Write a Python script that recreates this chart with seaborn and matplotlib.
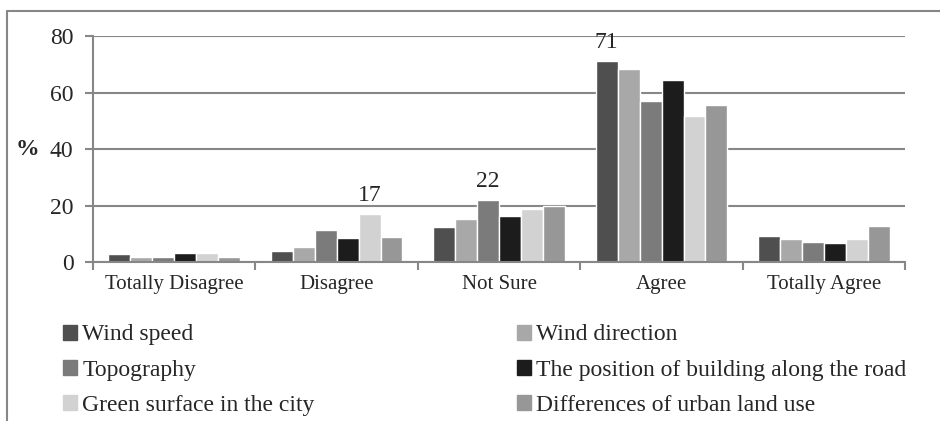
import pandas as pd
import matplotlib.pyplot as plt
import seaborn as sns
from matplotlib.lines import Line2D
from matplotlib.ticker import FixedLocator

sns.set_theme(style="white")
plt.rcParams["font.family"] = ["Liberation Serif", "DejaVu Serif"]

categories = ["Totally Disagree", "Disagree", "Not Sure", "Agree", "Totally Agree"]
series = ["Wind speed", "Wind direction", "Topography",
          "The position of building along the road",
          "Green surface in the city", "Differences of urban land use"]
wind_speed = [3.0, 4.0, 12.5, 71.0, 9.4]
wind_direction = [2.0, 5.5, 15.5, 68.5, 8.2]
topography = [2.0, 11.5, 22.0, 57.0, 7.2]
building_position = [3.5, 8.5, 16.5, 64.3, 6.9]
green_surface = [3.5, 17.0, 19.0, 51.8, 8.2]
land_use = [2.0, 9.0, 20.0, 55.7, 13.0]
colors = ["#4f4f4f", "#a8a8a8", "#7b7b7b", "#1c1c1c", "#d2d2d2", "#979797"]

values = [wind_speed, wind_direction, topography, building_position, green_surface, land_use]
rows = []
for name, vals in zip(series, values):
    for cat, v in zip(categories, vals):
        rows.append({"Category": cat, "Series": name, "Value": v})
df = pd.DataFrame(rows)

fig = plt.figure(figsize=(9.4, 4.21), dpi=100)
ax = fig.add_axes([0.099, 0.3765, 0.864, 0.538])
sns.barplot(data=df, x="Category", y="Value", hue="Series", hue_order=series,
            order=categories, palette=colors, width=0.81, ax=ax, legend=False)

ax.set_ylim(0, 80)
ax.set_xlim(-0.5, 4.5)
ax.set_yticks([0, 20, 40, 60, 80])
ax.yaxis.grid(True, color="#878787", linewidth=1.5)
ax.set_axisbelow(True)
ax.tick_params(axis="y", labelsize=17, length=6, width=1.5, color="#878787",
               direction="out", left=True, pad=8)
ax.tick_params(axis="x", which="major", length=0, labelsize=15, pad=9)
ax.xaxis.set_minor_locator(FixedLocator([-0.5, 0.5, 1.5, 2.5, 3.5, 4.5]))
ax.tick_params(axis="x", which="minor", length=6, width=1.5, color="#878787",
               direction="out", bottom=True)
for side in ["top", "right"]:
    ax.spines[side].set_visible(False)
for side in ["left", "bottom"]:
    ax.spines[side].set_color("#878787")
    ax.spines[side].set_linewidth(1.5)
ax.set_xlabel("")
ax.set_ylabel("%", rotation=0, fontsize=17, fontweight="bold", va="center")
ax.yaxis.set_label_coords(-0.081, 0.5)

# labelled bars: (series index, category index)
labelled = [(0, 3), (2, 2), (4, 1)]
for s, c in labelled:
    bar = ax.containers[s][c]
    ax.annotate(f"{values[s][c]:.0f}",
                (bar.get_x() + bar.get_width() / 2, bar.get_height()),
                xytext=(0, 6), textcoords="offset points",
                ha="center", va="bottom", fontsize=17)

handles = [plt.Rectangle((0, 0), 1, 1, color=c) for c in colors]
leg_kw = dict(frameon=False, fontsize=17, handlelength=0.6, handleheight=0.6,
              handletextpad=0.2, labelspacing=0.6, loc="upper left")
leg1 = fig.legend([handles[i] for i in (0, 2, 4)], [series[i] for i in (0, 2, 4)],
                  bbox_to_anchor=(0.0447, 0.280), **leg_kw)
leg2 = fig.legend([handles[i] for i in (1, 3, 5)], [series[i] for i in (1, 3, 5)],
                  bbox_to_anchor=(0.5277, 0.280), **leg_kw)

# outer chart frame
fig.add_artist(Line2D([0.0075, 0.0075], [0.0, 0.974], transform=fig.transFigure,
                      color="#878787", linewidth=1.5))
fig.add_artist(Line2D([0.0075, 1.0], [0.974, 0.974], transform=fig.transFigure,
                      color="#878787", linewidth=1.5))

fig.savefig("out.png", dpi=100)
